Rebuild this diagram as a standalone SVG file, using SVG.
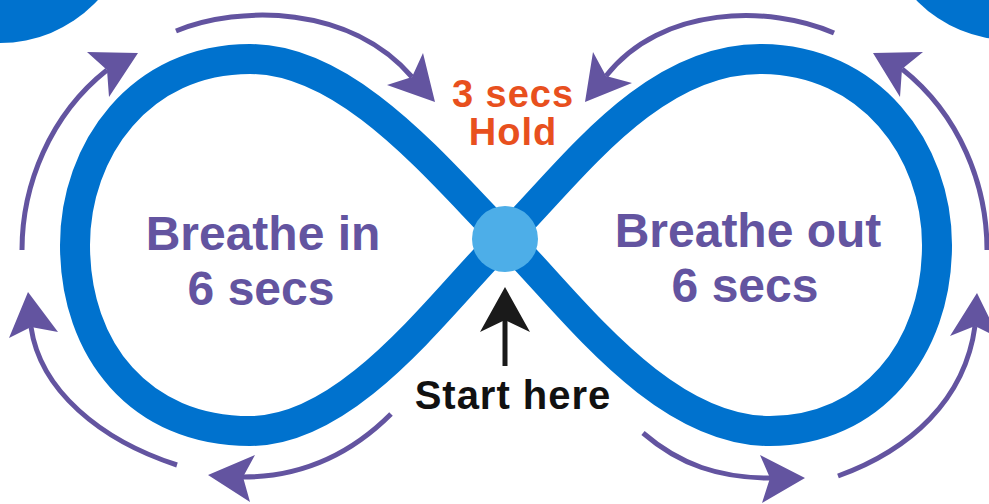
<svg xmlns="http://www.w3.org/2000/svg" width="989" height="504" viewBox="0 0 989 504">
<style>
.band{fill:none;stroke:#0072CE;stroke-width:30;stroke-linejoin:round}
.arc{fill:none;stroke:#6354A0;stroke-width:5}
.head{fill:#6354A0}
.lbl{font-family:"Liberation Sans",Arial,sans-serif;font-weight:bold;text-anchor:middle}
.purple{fill:#6354A0;font-size:48px}
.orange{fill:#E8501E;font-size:38px;letter-spacing:1px}
.black{fill:#111;font-size:40px;letter-spacing:1px}
</style>
<rect width="989" height="504" fill="#fff"/>
<g id="corners">
<circle cx="0" cy="-90" r="133" fill="#0072CE"/>
<circle cx="1010" cy="-90" r="130" fill="#0072CE"/>
</g>
<g id="infinity">
<path class="band" d="M505,238 C570,173 650,59 760,59 C870,59 937,150 937,245 C937,350 870,431 770,431 C660,431 570,303 505,238 C440,173 350,59 250,59 C140,59 75,150 75,245 C75,350 140,431 250,431 C350,431 440,303 505,238 Z"/>
</g>
<g id="connectors">
<path class="arc" d="M22,250 C22,185 50,115 107,70"/>
<polygon class="head" points="138,53 87,52 107,70 109,97"/>
<path class="arc" d="M176,31 C240,5 350,5 412,77"/>
<polygon class="head" points="435,102 423,53 412,77 387,85"/>
<path class="arc" d="M834,33 C771,5 661,5 606,76"/>
<polygon class="head" points="585,102 593,52 606,76 632,83"/>
<path class="arc" d="M987,250 C987,185 960,115 902,69"/>
<polygon class="head" points="873,53 923,52 902,69 900,97"/>
<path class="arc" d="M975,326 C965,400 910,450 838,476"/>
<polygon class="head" points="977,293 950,336 975,326 999,338"/>
<path class="arc" d="M643,433 C680,465 720,478 770,478"/>
<polygon class="head" points="805,478 760,455 770,478 762,503"/>
<path class="arc" d="M391,414 C350,455 300,477 243,477"/>
<polygon class="head" points="208,475 255,455 243,477 250,502"/>
<path class="arc" d="M31,327 C40,390 100,440 177,465"/>
<polygon class="head" points="28,292 9,338 31,327 58,332"/>
<line x1="505" y1="366" x2="505" y2="318" stroke="#1a1a1a" stroke-width="5"/>
<polygon points="505,287 480,332 505,320 530,332" fill="#1a1a1a"/>
</g>
<g id="center">
<circle cx="505" cy="239" r="33" fill="#4DAEE8"/>
</g>
<g id="breathe-in">
<text class="lbl purple" x="263" y="250">Breathe in</text>
<text class="lbl purple" x="261" y="305">6 secs</text>
</g>
<g id="breathe-out">
<text class="lbl purple" x="748" y="247">Breathe out</text>
<text class="lbl purple" x="745" y="302">6 secs</text>
</g>
<g id="hold">
<text class="lbl orange" x="513" y="107">3 secs</text>
<text class="lbl orange" x="513" y="145">Hold</text>
</g>
<g id="start">
<text class="lbl black" x="513" y="409">Start here</text>
</g>
</svg>
